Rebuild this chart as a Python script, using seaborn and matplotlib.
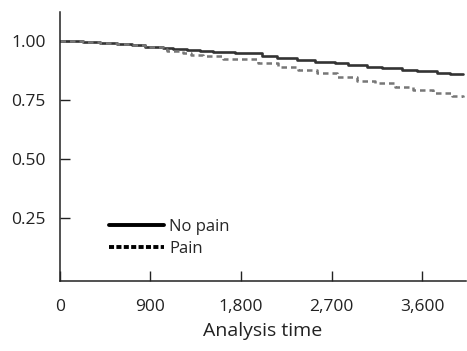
import pandas as pd
import matplotlib.pyplot as plt
import seaborn as sns
from matplotlib.lines import Line2D

# Kaplan-Meier style step curves
time_no_pain = [0, 229, 398, 567, 716, 845, 1024, 1124, 1263, 1392, 1521, 1740, 2009, 2158,
                2357, 2536, 2735, 2864, 3053, 3202, 3401, 3550, 3749, 3878, 4007]
surv_no_pain = [1.000, 0.995, 0.991, 0.986, 0.981, 0.974, 0.967, 0.963, 0.960, 0.956, 0.950,
                0.946, 0.934, 0.925, 0.917, 0.910, 0.903, 0.896, 0.889, 0.882, 0.875, 0.871,
                0.864, 0.858, 0.858]

time_pain = [0, 229, 398, 567, 716, 845, 1024, 1070, 1223, 1303, 1422, 1621, 1969, 2168,
             2367, 2556, 2754, 2953, 3132, 3331, 3510, 3709, 3898, 4007]
surv_pain = [1.000, 0.995, 0.991, 0.986, 0.980, 0.973, 0.966, 0.956, 0.946, 0.939, 0.934,
             0.920, 0.906, 0.889, 0.875, 0.861, 0.844, 0.830, 0.819, 0.804, 0.790, 0.776,
             0.765, 0.762]

x_ticks = [0, 900, 1800, 2700, 3600]
x_tick_labels = ['0', '900', '1,800', '2,700', '3,600']
y_ticks = [0.25, 0.50, 0.75, 1.00]
y_tick_labels = ['0.25', '0.50', '0.75', '1.00']

df_np = pd.DataFrame({'time': time_no_pain, 'surv': surv_no_pain, 'grupo': 'No pain'})
df_p = pd.DataFrame({'time': time_pain, 'surv': surv_pain, 'grupo': 'Pain'})

sns.set_theme(style="ticks")
plt.rcParams['font.family'] = ['Open Sans', 'DejaVu Sans']

fig = plt.figure(figsize=(4.67, 3.51), dpi=100)
ax = fig.add_axes([0.128, 0.199, 0.870, 0.767])

sns.lineplot(data=df_np, x='time', y='surv', ax=ax, drawstyle='steps-post',
             color='#333333', linewidth=1.9, estimator=None, legend=False)
sns.lineplot(data=df_p, x='time', y='surv', ax=ax, drawstyle='steps-post',
             color='#777777', linewidth=1.8, linestyle=(0, (2.2, 1.6)), estimator=None,
             legend=False)

ax.set_xlim(0, 4037)
ax.set_ylim(-0.019, 1.121)
ax.set_xticks(x_ticks)
ax.set_xticklabels(x_tick_labels)
ax.set_yticks(y_ticks)
ax.set_yticklabels(y_tick_labels)
ax.tick_params(direction='in', length=7, width=1, labelsize=12.5, colors='#222222', pad=10)
ax.tick_params(axis='x', pad=13)
ax.set_xlabel('Analysis time', fontsize=14, color='#222222', labelpad=5)
ax.set_ylabel('')
for s in ['top', 'right']:
    ax.spines[s].set_visible(False)
for s in ['left', 'bottom']:
    ax.spines[s].set_linewidth(1.1)
    ax.spines[s].set_color('#222222')

handles = [Line2D([], [], color='black', linewidth=2.8),
           Line2D([], [], color='black', linewidth=2.8, linestyle=(0, (1.3, 0.6)))]
ax.legend(handles, ['No pain', 'Pain'], loc='lower left', bbox_to_anchor=(0.105, 0.065),
          frameon=False, fontsize=12, handlelength=3.3, handletextpad=0.3,
          labelspacing=0.38, borderaxespad=0)

plt.savefig('out.png', dpi=100)
